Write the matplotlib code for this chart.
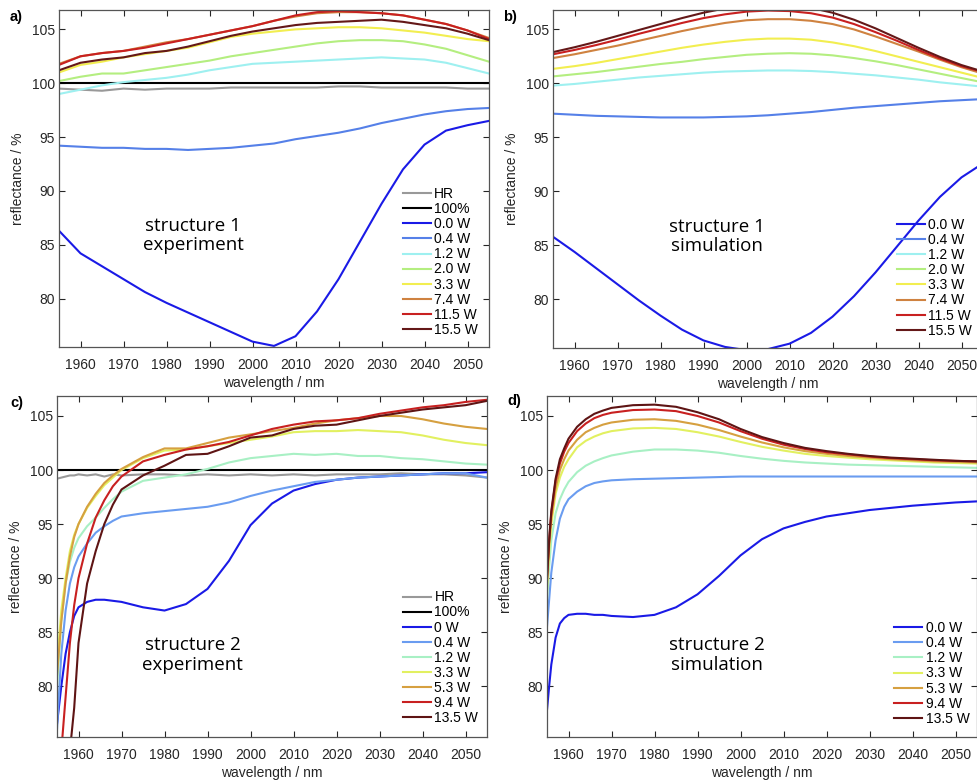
import matplotlib
matplotlib.use("Agg")
import matplotlib.pyplot as plt

plt.rcParams['font.family'] = ['Liberation Sans', 'DejaVu Sans']

# ---------------- data ----------------
wl_ab = [1955, 1960, 1965, 1970, 1975, 1980, 1985, 1990, 1995, 2000, 2005,
         2010, 2015, 2020, 2025, 2030, 2035, 2040, 2045, 2050, 2055]

# panel a: structure 1 experiment
a_HR   = [99.5, 99.4, 99.3, 99.5, 99.4, 99.5, 99.5, 99.5, 99.6, 99.6, 99.6, 99.6, 99.6, 99.7, 99.7, 99.6, 99.6, 99.6, 99.6, 99.5, 99.5]
a_100  = [100.0] * 21
a_00W  = [86.3, 84.2, 83.0, 81.8, 80.6, 79.6, 78.7, 77.8, 76.9, 76.0, 75.6, 76.5, 78.8, 81.8, 85.3, 88.8, 92.0, 94.3, 95.6, 96.1, 96.5]
a_04W  = [94.2, 94.1, 94.0, 94.0, 93.9, 93.9, 93.8, 93.9, 94.0, 94.2, 94.4, 94.8, 95.1, 95.4, 95.8, 96.3, 96.7, 97.1, 97.4, 97.6, 97.7]
a_12W  = [99.0, 99.4, 99.8, 100.1, 100.3, 100.5, 100.8, 101.2, 101.5, 101.8, 101.9, 102.0, 102.1, 102.2, 102.3, 102.4, 102.3, 102.2, 101.9, 101.4, 100.9]
a_20W  = [100.2, 100.6, 100.9, 100.9, 101.2, 101.5, 101.8, 102.1, 102.5, 102.8, 103.1, 103.4, 103.7, 103.9, 104.0, 104.0, 103.9, 103.6, 103.2, 102.6, 102.0]
a_33W  = [101.0, 101.7, 102.0, 102.4, 102.7, 103.0, 103.3, 103.8, 104.3, 104.6, 104.8, 105.0, 105.1, 105.2, 105.2, 105.1, 104.9, 104.7, 104.4, 104.1, 103.9]
a_74W  = [101.8, 102.5, 102.8, 103.0, 103.4, 103.8, 104.1, 104.5, 104.9, 105.3, 105.8, 106.2, 106.5, 106.6, 106.6, 106.5, 106.3, 105.9, 105.5, 104.9, 104.2]
a_115W = [101.7, 102.5, 102.8, 103.0, 103.3, 103.7, 104.1, 104.5, 104.9, 105.3, 105.8, 106.3, 106.6, 106.7, 106.6, 106.5, 106.3, 105.9, 105.5, 104.9, 104.1]
a_155W = [101.2, 101.9, 102.2, 102.4, 102.8, 103.0, 103.4, 103.9, 104.4, 104.8, 105.1, 105.4, 105.6, 105.7, 105.8, 105.9, 105.7, 105.4, 105.1, 104.6, 104.0]

# panel b: structure 1 simulation
b_00W  = [85.8, 84.4, 82.9, 81.4, 79.9, 78.5, 77.2, 76.2, 75.6, 75.3, 75.4, 75.9, 76.9, 78.4, 80.3, 82.5, 84.9, 87.3, 89.5, 91.3, 92.6]
b_04W  = [97.2, 97.1, 97.0, 96.95, 96.9, 96.85, 96.85, 96.85, 96.9, 96.95, 97.05, 97.2, 97.35, 97.55, 97.75, 97.9, 98.05, 98.2, 98.35, 98.45, 98.55]
b_12W  = [99.8, 99.95, 100.15, 100.35, 100.55, 100.7, 100.85, 101.0, 101.1, 101.15, 101.2, 101.2, 101.15, 101.05, 100.9, 100.75, 100.55, 100.35, 100.1, 99.9, 99.7]
b_20W  = [100.65, 100.85, 101.05, 101.3, 101.55, 101.8, 102.0, 102.25, 102.45, 102.65, 102.75, 102.8, 102.75, 102.6, 102.35, 102.05, 101.7, 101.3, 100.9, 100.5, 100.1]
b_33W  = [101.35, 101.6, 101.9, 102.25, 102.6, 102.95, 103.3, 103.6, 103.85, 104.05, 104.15, 104.15, 104.05, 103.8, 103.45, 103.0, 102.5, 102.0, 101.5, 101.0, 100.5]
b_74W  = [102.35, 102.7, 103.1, 103.5, 103.95, 104.4, 104.85, 105.25, 105.6, 105.85, 105.95, 105.95, 105.8, 105.5, 105.0, 104.35, 103.65, 102.95, 102.2, 101.5, 100.9]
b_115W = [102.7, 103.1, 103.55, 104.05, 104.6, 105.1, 105.6, 106.05, 106.4, 106.65, 106.75, 106.7, 106.5, 106.1, 105.5, 104.75, 103.95, 103.1, 102.3, 101.6, 101.05]
b_155W = [102.9, 103.35, 103.85, 104.4, 104.95, 105.5, 106.05, 106.55, 106.95, 107.2, 107.3, 107.25, 107.0, 106.55, 105.9, 105.1, 104.2, 103.3, 102.45, 101.7, 101.1]

# panel c: structure 2 experiment
wl_c = [1955, 1956, 1957, 1958, 1959, 1960, 1962, 1964, 1966, 1968, 1970, 1975, 1980,
        1985, 1990, 1995, 2000, 2005, 2010, 2015, 2020, 2025, 2030, 2035, 2040, 2045, 2050, 2055]
c_HR   = [99.2, 99.3, 99.4, 99.5, 99.5, 99.6, 99.5, 99.6, 99.4, 99.6, 99.5, 99.6, 99.6, 99.5, 99.6, 99.5, 99.6, 99.5, 99.6, 99.5, 99.6, 99.6, 99.6, 99.7, 99.6, 99.6, 99.5, 99.3]
c_100  = [100.0] * 28
c_0W   = [76.5, 80.0, 83.0, 85.0, 86.5, 87.3, 87.8, 88.0, 88.0, 87.9, 87.8, 87.3, 87.0, 87.6, 89.0, 91.6, 94.9, 96.9, 98.1, 98.7, 99.1, 99.3, 99.4, 99.5, 99.6, 99.7, 99.7, 99.8]
c_04W  = [76.0, 83.0, 87.0, 89.5, 91.0, 92.0, 93.2, 94.2, 94.8, 95.3, 95.7, 96.0, 96.2, 96.4, 96.6, 97.0, 97.6, 98.1, 98.5, 98.9, 99.1, 99.3, 99.4, 99.5, 99.6, 99.7, 99.7, 99.3]
c_12W  = [80.0, 86.0, 89.5, 91.5, 92.8, 93.7, 94.8, 95.6, 96.5, 97.3, 98.0, 99.0, 99.3, 99.6, 100.1, 100.7, 101.1, 101.3, 101.5, 101.4, 101.5, 101.3, 101.3, 101.1, 101.0, 100.8, 100.6, 100.5]
c_33W  = [82.0, 87.0, 90.0, 92.5, 94.0, 95.0, 96.5, 97.6, 98.6, 99.3, 100.0, 101.1, 101.8, 101.9, 102.2, 102.5, 102.8, 103.1, 103.5, 103.6, 103.6, 103.7, 103.6, 103.5, 103.2, 102.8, 102.5, 102.3]
c_53W  = [81.0, 86.0, 89.5, 92.0, 93.8, 95.0, 96.6, 97.8, 98.8, 99.5, 100.1, 101.2, 102.0, 102.0, 102.5, 103.0, 103.3, 103.6, 103.9, 104.3, 104.6, 104.8, 105.0, 105.0, 104.7, 104.3, 104.0, 103.8]
c_94W  = [74.0, 74.0, 79.0, 84.0, 87.5, 90.0, 93.2, 95.6, 97.2, 98.5, 99.4, 100.8, 101.4, 101.9, 102.2, 102.6, 103.2, 103.8, 104.2, 104.5, 104.6, 104.8, 105.2, 105.5, 105.8, 106.0, 106.3, 106.5]
c_135W = [74.0, 74.0, 74.0, 74.0, 78.0, 84.0, 89.5, 92.5, 95.0, 96.8, 98.2, 99.5, 100.4, 101.4, 101.5, 102.2, 103.0, 103.2, 103.8, 104.1, 104.2, 104.6, 105.0, 105.3, 105.6, 105.8, 106.0, 106.4]

# panel d: structure 2 simulation
wl_d = [1955, 1955.5, 1956, 1957, 1958, 1959, 1960, 1962, 1964, 1966, 1968, 1970, 1975, 1980, 1985,
        1990, 1995, 2000, 2005, 2010, 2015, 2020, 2025, 2030, 2035, 2040, 2045, 2050, 2055]
d_0W   = [77.8, 80.0, 82.0, 84.5, 85.8, 86.3, 86.6, 86.7, 86.7, 86.6, 86.6, 86.5, 86.4, 86.6, 87.3, 88.5, 90.2, 92.1, 93.6, 94.6, 95.2, 95.7, 96.0, 96.3, 96.5, 96.7, 96.85, 97.0, 97.1]
d_04W  = [85.5, 88.0, 90.5, 93.5, 95.5, 96.6, 97.3, 98.0, 98.5, 98.8, 98.95, 99.05, 99.15, 99.2, 99.25, 99.3, 99.35, 99.4, 99.4, 99.4, 99.4, 99.4, 99.4, 99.4, 99.4, 99.4, 99.4, 99.4, 99.4]
d_12W  = [88.0, 91.0, 93.5, 96.0, 97.3, 98.2, 98.9, 99.8, 100.4, 100.8, 101.1, 101.35, 101.7, 101.9, 101.9, 101.8, 101.6, 101.3, 101.05, 100.85, 100.7, 100.6, 100.5, 100.45, 100.4, 100.35, 100.3, 100.25, 100.2]
d_33W  = [89.0, 92.5, 95.0, 97.8, 99.3, 100.3, 101.0, 102.1, 102.7, 103.1, 103.4, 103.6, 103.85, 103.9, 103.8, 103.5, 103.1, 102.6, 102.15, 101.8, 101.5, 101.3, 101.15, 101.0, 100.9, 100.8, 100.7, 100.65, 100.6]
d_53W  = [89.5, 93.0, 95.5, 98.3, 100.0, 101.0, 101.8, 102.8, 103.5, 103.9, 104.2, 104.4, 104.65, 104.7, 104.55, 104.2, 103.7, 103.1, 102.55, 102.1, 101.75, 101.5, 101.3, 101.15, 101.0, 100.9, 100.8, 100.75, 100.7]
d_94W  = [90.0, 93.5, 96.0, 99.0, 100.6, 101.7, 102.5, 103.6, 104.3, 104.8, 105.1, 105.3, 105.55, 105.6, 105.45, 105.0, 104.4, 103.6, 102.9, 102.35, 101.95, 101.65, 101.45, 101.25, 101.1, 101.0, 100.9, 100.85, 100.8]
d_135W = [90.0, 93.5, 96.2, 99.2, 101.0, 102.0, 102.9, 104.0, 104.7, 105.2, 105.5, 105.75, 106.0, 106.05, 105.85, 105.35, 104.7, 103.8, 103.05, 102.5, 102.05, 101.75, 101.5, 101.3, 101.15, 101.05, 100.95, 100.85, 100.8]

labels_1 = ['0.0 W', '0.4 W', '1.2 W', '2.0 W', '3.3 W', '7.4 W', '11.5 W', '15.5 W']
labels_2c = ['0 W', '0.4 W', '1.2 W', '3.3 W', '5.3 W', '9.4 W', '13.5 W']
labels_2d = ['0.0 W', '0.4 W', '1.2 W', '3.3 W', '5.3 W', '9.4 W', '13.5 W']

colors_1 = ['#1a1ae6', '#5580e8', '#9ef0f0', '#b4ee80', '#f2ee50', '#cf8240', '#c82020', '#641818']
colors_2 = ['#1a1ae6', '#6a9cf0', '#a8f0c4', '#e2f060', '#d6a040', '#c82020', '#5e1414']
col_HR = '#999999'
col_100 = '#000000'

# ---------------- figure ----------------
W, H = 977, 780
fig = plt.figure(figsize=(W / 100, H / 100), dpi=100)

def add_ax(l, t, r, b):
    return fig.add_axes([l / W, 1 - b / H, (r - l) / W, (b - t) / H])

ax_a = add_ax(59, 10, 489, 347)
ax_b = add_ax(553, 10, 983, 348)
ax_c = add_ax(57, 396, 487, 737)
ax_d = add_ax(547, 396, 977, 737)

LW = 1.5
FS = 10

def style(ax, ylim):
    ax.set_xlim(1955, 2055)
    ax.set_ylim(*ylim)
    ax.set_xticks(range(1960, 2051, 10))
    ax.set_yticks(range(80, 106, 5))
    ax.tick_params(direction='in', top=True, right=True, length=4, width=0.8,
                   labelsize=FS, colors='#262626')
    ax.tick_params(axis='x', pad=8)
    ax.tick_params(axis='y', pad=3)
    for s in ax.spines.values():
        s.set_color('#555555')
        s.set_linewidth(0.9)
    ax.set_xlabel('wavelength / nm', fontsize=FS, color='#262626', labelpad=3)
    ax.set_ylabel('reflectance / %', fontsize=FS, color='#262626', labelpad=5)

def legend(ax, x, y):
    ax.legend(loc='upper left', bbox_to_anchor=(x, y), frameon=False, fontsize=FS,
              handlelength=2.0, handletextpad=0.25, labelspacing=0.08,
              borderpad=0, borderaxespad=0)

TXT = dict(ha='center', va='center', fontsize=13.5, family=['Open Sans', 'DejaVu Sans'],
           linespacing=1.1)

# a
ax = ax_a
ax.plot(wl_ab, a_HR, color=col_HR, lw=LW, label='HR')
ax.plot(wl_ab, a_100, color=col_100, lw=LW, label='100%')
for ys, c, lab in zip([a_00W, a_04W, a_12W, a_20W, a_33W, a_74W, a_115W, a_155W], colors_1, labels_1):
    ax.plot(wl_ab, ys, color=c, lw=LW, label=lab)
style(ax, (75.5, 106.8))
legend(ax, 0.80, 0.475)
ax.text(0.312, 0.33, 'structure 1\nexperiment', transform=ax.transAxes, **TXT)

# b
ax = ax_b
for ys, c, lab in zip([b_00W, b_04W, b_12W, b_20W, b_33W, b_74W, b_115W, b_155W], colors_1, labels_1):
    ax.plot(wl_ab, ys, color=c, lw=LW, label=lab)
style(ax, (75.5, 106.8))
legend(ax, 0.80, 0.385)
ax.text(0.381, 0.33, 'structure 1\nsimulation', transform=ax.transAxes, **TXT)

# c
ax = ax_c
ax.plot(wl_c, c_HR, color=col_HR, lw=LW, label='HR')
ax.plot(wl_c, c_100, color=col_100, lw=LW, label='100%')
for ys, c, lab in zip([c_0W, c_04W, c_12W, c_33W, c_53W, c_94W, c_135W], colors_2, labels_2c):
    ax.plot(wl_c, ys, color=c, lw=LW, label=lab)
style(ax, (75.3, 106.85))
legend(ax, 0.805, 0.43)
ax.text(0.316, 0.24, 'structure 2\nexperiment', transform=ax.transAxes, **TXT)

# d
ax = ax_d
for ys, c, lab in zip([d_0W, d_04W, d_12W, d_33W, d_53W, d_94W, d_135W], colors_2, labels_2d):
    ax.plot(wl_d, ys, color=c, lw=LW, label=lab)
style(ax, (75.3, 106.85))
legend(ax, 0.808, 0.34)
ax.text(0.395, 0.24, 'structure 2\nsimulation', transform=ax.transAxes, **TXT)

# panel letters
for (px, py, s) in [(10, 17, 'a)'), (503, 17, 'b)'), (10, 403, 'c)'), (507, 401, 'd)')]:
    fig.text(px / W, 1 - py / H, s, fontsize=10.5, fontweight='bold', va='center', ha='left')

fig.savefig('out.png', dpi=100)
